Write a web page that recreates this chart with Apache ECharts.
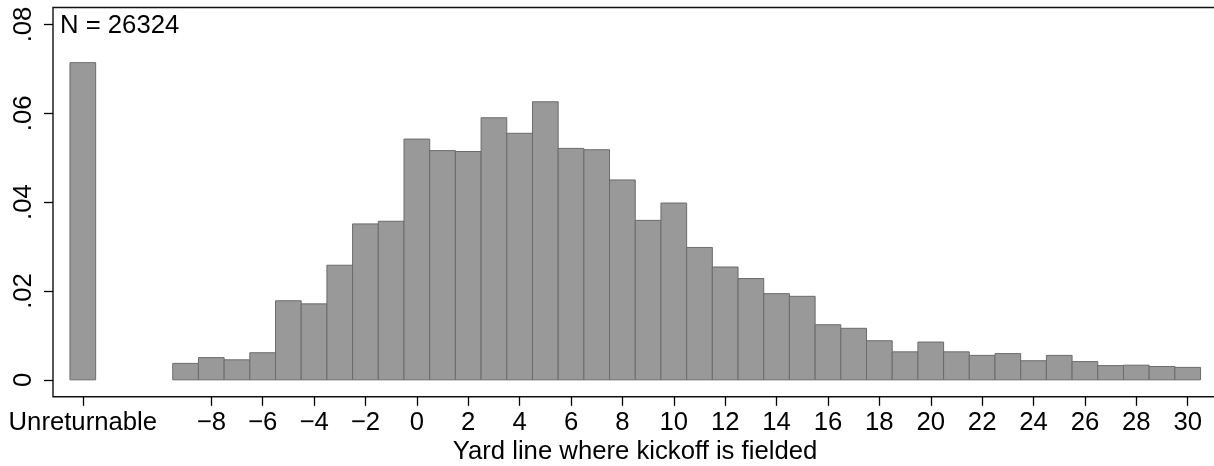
<!DOCTYPE html>
<html>
<head>
<meta charset="utf-8">
<script src="https://cdn.jsdelivr.net/npm/echarts@6.0.0/dist/echarts.min.js"></script>
<style>
html, body { margin: 0; padding: 0; background: #fff; }
#chart { width: 1214px; height: 466px; }
</style>
</head>
<body>
<div id="chart"></div>
<script>
// ---- data ----
const yardLines = [-9, -8, -7, -6, -5, -4, -3, -2, -1, 0, 1, 2, 3, 4, 5, 6, 7, 8, 9, 10,
                   11, 12, 13, 14, 15, 16, 17, 18, 19, 20, 21, 22, 23, 24, 25, 26, 27, 28, 29, 30];
const density = [0.0037, 0.0050, 0.0045, 0.0061, 0.0178, 0.0171, 0.0258, 0.0351, 0.0357, 0.0542,
                 0.0516, 0.0514, 0.0590, 0.0555, 0.0626, 0.0521, 0.0518, 0.0450, 0.0359, 0.0398,
                 0.0298, 0.0254, 0.0228, 0.0194, 0.0188, 0.0124, 0.0116, 0.0088, 0.0063, 0.0085,
                 0.0063, 0.0055, 0.0059, 0.0043, 0.0055, 0.0041, 0.0032, 0.0033, 0.0030, 0.0028];
const unreturnablePos = -13;
const unreturnableDensity = 0.0714;
const xTickValues = [-13, -8, -6, -4, -2, 0, 2, 4, 6, 8, 10, 12, 14, 16, 18, 20, 22, 24, 26, 28, 30];
const yTickValues = [0, 0.02, 0.04, 0.06, 0.08];
const sampleLabel = 'N = 26324';
const xTitle = 'Yard line where kickoff is fielded';

// ---- chart ----
const seriesData = yardLines.map((x, i) => [x, density[i]]);
seriesData.unshift([unreturnablePos, unreturnableDensity]);

const FONT = 'Liberation Sans, Arial, Helvetica, sans-serif';
const FS = 25.7;

function renderItem(params, api) {
  const x = api.value(0), y = api.value(1);
  const p1 = api.coord([x - 0.5, y]);
  const p0 = api.coord([x + 0.5, 0]);
  return {
    type: 'rect',
    shape: { x: p1[0], y: p1[1], width: p0[0] - p1[0], height: p0[1] - p1[1] },
    style: { fill: '#999999', stroke: '#6b6b6b', lineWidth: 1 }
  };
}

const chart = echarts.init(document.getElementById('chart'), null, { renderer: 'canvas' });
chart.setOption({
  backgroundColor: '#ffffff',
  animation: false,
  grid: {
    left: 53, top: 7.5, right: -3, bottom: 69.2,
    containLabel: false,
    outerBoundsMode: 'none',
    show: true, borderColor: '#111', borderWidth: 1.4, backgroundColor: 'transparent'
  },
  xAxis: {
    type: 'value',
    position: 'bottom',
    min: -14.16, max: 31.14,
    splitLine: { show: false },
    axisLine: { show: false, onZero: false },
    axisTick: { show: true, customValues: xTickValues, length: 9, lineStyle: { color: '#000', width: 1.3 } },
    axisLabel: {
      customValues: xTickValues,
      margin: 13,
      color: '#000', fontFamily: FONT, fontSize: FS,
      formatter: v => v === unreturnablePos ? 'Unreturnable' : (v < 0 ? '\u2212' + (-v) : String(v))
    },
    name: xTitle,
    nameLocation: 'middle',
    nameGap: 42,
    nameMoveOverlap: false,
    nameTextStyle: { color: '#000', fontFamily: FONT, fontSize: FS }
  },
  yAxis: {
    type: 'value',
    position: 'left',
    min: -0.00382, max: 0.08382,
    splitLine: { show: false },
    axisLine: { show: false, onZero: false },
    axisTick: { show: true, customValues: yTickValues, length: 9, lineStyle: { color: '#000', width: 1.3 } },
    axisLabel: {
      customValues: yTickValues,
      rotate: 90,
      margin: 16,
      color: '#000', fontFamily: FONT, fontSize: FS,
      formatter: v => v === 0 ? '0' : String(v).replace(/^0/, '')
    }
  },
  graphic: [{
    type: 'text',
    left: 60, top: 13,
    style: { text: sampleLabel, fill: '#000', font: FS + 'px ' + FONT }
  }],
  series: [{
    type: 'custom',
    renderItem: renderItem,
    data: seriesData,
    encode: { x: 0, y: 1 },
    clip: true
  }]
});
</script>
</body>
</html>
